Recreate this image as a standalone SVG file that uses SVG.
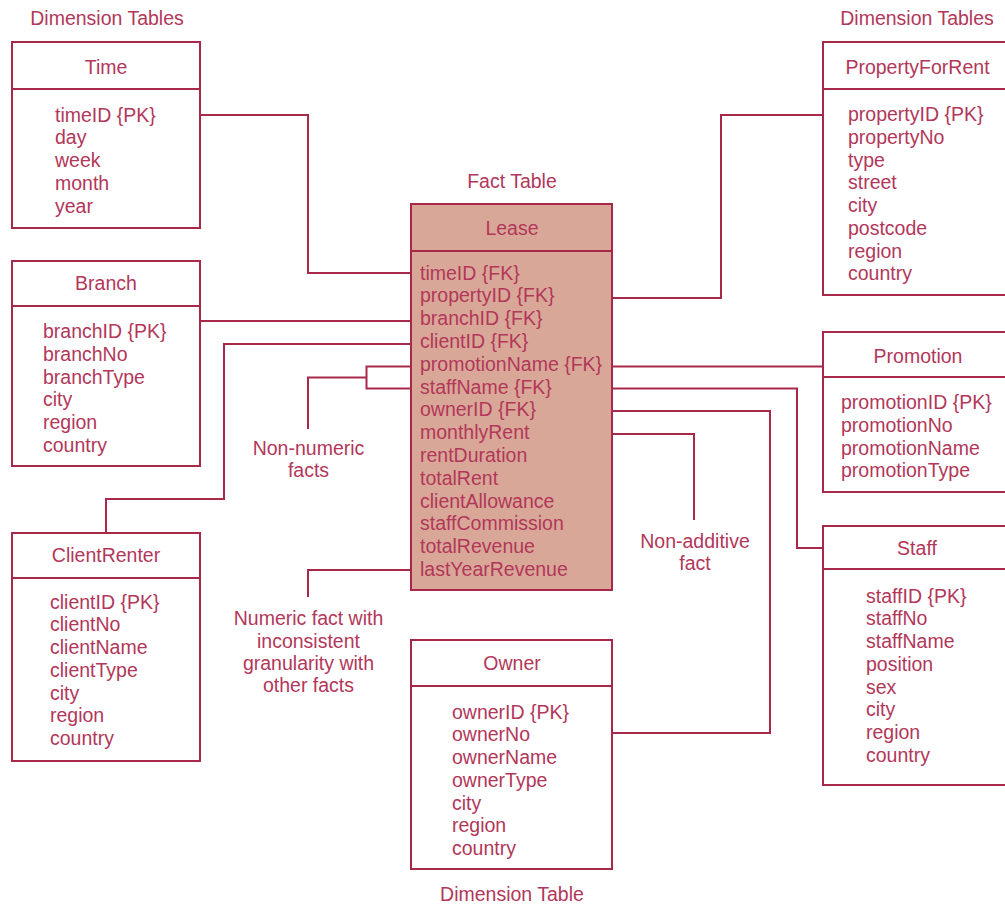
<svg xmlns="http://www.w3.org/2000/svg" width="1005" height="904" viewBox="0 0 1005 904">
<style>
.box{fill:#ffffff;stroke:#a8284a;stroke-width:2}
.fact{fill:#d9a797;stroke:#a8284a;stroke-width:2}
.sep{stroke:#a8284a;stroke-width:2}
.con{fill:none;stroke:#a8284a;stroke-width:2}
text{font-family:"Liberation Sans",Arial,sans-serif;font-size:19.5px;fill:#b2375a}
.c{text-anchor:middle}
</style>
<rect width="1005" height="904" fill="#ffffff"/>
<g id="labels">
<text class="c" x="107" y="25">Dimension Tables</text>
<text class="c" x="917" y="25">Dimension Tables</text>
<text class="c" x="512" y="188">Fact Table</text>
<text class="c" x="512" y="901">Dimension Table</text>
<text class="c" x="308.5" y="455">Non-numeric</text>
<text class="c" x="308.5" y="477">facts</text>
<text class="c" x="695" y="548">Non-additive</text>
<text class="c" x="695" y="570">fact</text>
<text class="c" x="308.5" y="625">Numeric fact with</text>
<text class="c" x="308.5" y="648">inconsistent</text>
<text class="c" x="308.5" y="670">granularity with</text>
<text class="c" x="308.5" y="692">other facts</text>
</g>
<g id="connectors">
<path class="con" d="M200,115 H308 V273 H411"/>
<path class="con" d="M612,298 H721 V115 H823"/>
<path class="con" d="M200,321 H411"/>
<path class="con" d="M411,344 H224 V499 H106 V533"/>
<path class="con" d="M612,366.5 H823"/>
<path class="con" d="M612,388.5 H797 V548 H823"/>
<path class="con" d="M612,411 H770 V733 H612"/>
<path class="con" d="M411,366.5 H366.5 V388.5 H411 M366.5,377.5 H308 V429"/>
<path class="con" d="M612,434 H694 V520"/>
<path class="con" d="M411,570 H308 V597"/>
</g>
<g id="time">
<rect class="box" x="12" y="42" width="188" height="186"/>
<line class="sep" x1="12" y1="89" x2="200" y2="89"/>
<text class="c" x="106" y="74">Time</text>
<text x="55" y="121.5">timeID {PK}</text>
<text x="55" y="144.25">day</text>
<text x="55" y="167">week</text>
<text x="55" y="189.75">month</text>
<text x="55" y="212.5">year</text>
</g>
<g id="branch">
<rect class="box" x="12" y="261" width="188" height="205"/>
<line class="sep" x1="12" y1="306" x2="200" y2="306"/>
<text class="c" x="106" y="290">Branch</text>
<text x="43" y="338">branchID {PK}</text>
<text x="43" y="360.75">branchNo</text>
<text x="43" y="383.5">branchType</text>
<text x="43" y="406.25">city</text>
<text x="43" y="429">region</text>
<text x="43" y="451.75">country</text>
</g>
<g id="clientrenter">
<rect class="box" x="12" y="533" width="188" height="228"/>
<line class="sep" x1="12" y1="578" x2="200" y2="578"/>
<text class="c" x="106" y="562">ClientRenter</text>
<text x="50" y="608.5">clientID {PK}</text>
<text x="50" y="631.25">clientNo</text>
<text x="50" y="654">clientName</text>
<text x="50" y="676.75">clientType</text>
<text x="50" y="699.5">city</text>
<text x="50" y="722.25">region</text>
<text x="50" y="745">country</text>
</g>
<g id="lease">
<rect class="fact" x="411" y="204" width="201" height="386"/>
<line class="sep" x1="411" y1="251" x2="612" y2="251"/>
<text class="c" x="512" y="235">Lease</text>
<text x="420" y="279.5">timeID {FK}</text>
<text x="420" y="302.3">propertyID {FK}</text>
<text x="420" y="325.1">branchID {FK}</text>
<text x="420" y="347.9">clientID {FK}</text>
<text x="420" y="370.7">promotionName {FK}</text>
<text x="420" y="393.5">staffName {FK}</text>
<text x="420" y="416.3">ownerID {FK}</text>
<text x="420" y="439.1">monthlyRent</text>
<text x="420" y="461.9">rentDuration</text>
<text x="420" y="484.7">totalRent</text>
<text x="420" y="507.5">clientAllowance</text>
<text x="420" y="530.3">staffCommission</text>
<text x="420" y="553.1">totalRevenue</text>
<text x="420" y="575.9">lastYearRevenue</text>
</g>
<g id="owner">
<rect class="box" x="411" y="640" width="201" height="229"/>
<line class="sep" x1="411" y1="686" x2="612" y2="686"/>
<text class="c" x="512" y="670">Owner</text>
<text x="452" y="718.5">ownerID {PK}</text>
<text x="452" y="741.25">ownerNo</text>
<text x="452" y="764">ownerName</text>
<text x="452" y="786.75">ownerType</text>
<text x="452" y="809.5">city</text>
<text x="452" y="832.25">region</text>
<text x="452" y="855">country</text>
</g>
<g id="propertyforrent">
<rect class="box" x="823" y="42" width="195" height="253"/>
<line class="sep" x1="823" y1="89" x2="1018" y2="89"/>
<text class="c" x="917.5" y="74">PropertyForRent</text>
<text x="848" y="121">propertyID {PK}</text>
<text x="848" y="143.75">propertyNo</text>
<text x="848" y="166.5">type</text>
<text x="848" y="189.25">street</text>
<text x="848" y="212">city</text>
<text x="848" y="234.75">postcode</text>
<text x="848" y="257.5">region</text>
<text x="848" y="280.25">country</text>
</g>
<g id="promotion">
<rect class="box" x="823" y="332" width="195" height="160"/>
<line class="sep" x1="823" y1="377" x2="1018" y2="377"/>
<text class="c" x="918" y="363">Promotion</text>
<text x="841" y="409">promotionID {PK}</text>
<text x="841" y="431.75">promotionNo</text>
<text x="841" y="454.5">promotionName</text>
<text x="841" y="477.25">promotionType</text>
</g>
<g id="staff">
<rect class="box" x="823" y="526" width="195" height="259"/>
<line class="sep" x1="823" y1="569" x2="1018" y2="569"/>
<text class="c" x="917" y="555">Staff</text>
<text x="866" y="602.5">staffID {PK}</text>
<text x="866" y="625.25">staffNo</text>
<text x="866" y="648">staffName</text>
<text x="866" y="670.75">position</text>
<text x="866" y="693.5">sex</text>
<text x="866" y="716.25">city</text>
<text x="866" y="739">region</text>
<text x="866" y="761.75">country</text>
</g>
</svg>
